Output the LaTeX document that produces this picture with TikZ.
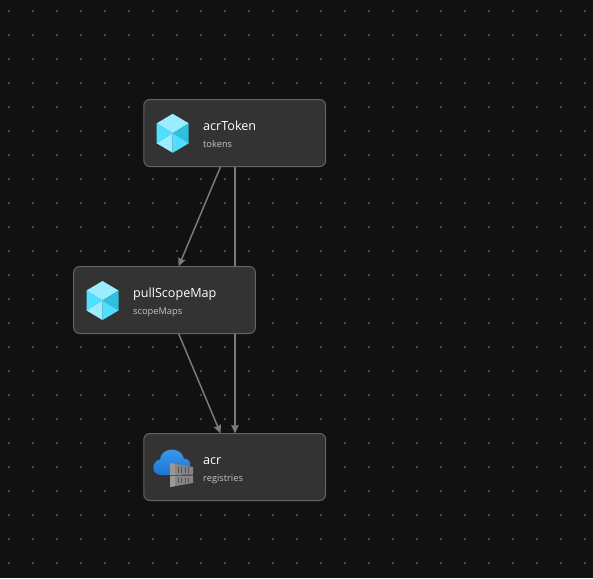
\documentclass[tikz,border=0pt]{standalone}
\usepackage{fontspec}
\setmainfont{Open Sans}
\usetikzlibrary{arrows.meta,backgrounds}
\definecolor{canvasbg}{HTML}{111111}
\definecolor{griddot}{HTML}{4A4A4A}
\definecolor{boxfill}{HTML}{333333}
\definecolor{boxline}{HTML}{646464}
\definecolor{edgeline}{HTML}{7A7A7A}
\definecolor{subtext}{HTML}{C4C4C4}
\definecolor{cubetop}{HTML}{9CECFF}
\definecolor{cubemid}{HTML}{50E0FF}
\definecolor{cubedark}{HTML}{32BEDD}
\definecolor{cloudtop}{HTML}{3F9DEB}
\definecolor{cloudlow}{HTML}{1C74D4}
\definecolor{crate}{HTML}{858585}
\definecolor{crateside}{HTML}{999999}
\definecolor{crategap}{HTML}{555555}
\tikzset{
  resbox/.style={draw=boxline,fill=boxfill,line width=1pt,rounded corners=6pt,
    minimum width=181.8pt,minimum height=67pt,outer sep=0pt,inner sep=0pt},
  restitle/.style={anchor=base west,inner sep=0pt,text=white,font=\fontsize{12.6}{14}\selectfont},
  ressub/.style={anchor=base west,inner sep=0pt,text=subtext,font=\fontsize{9.3}{11}\selectfont},
  edge/.style={draw=edgeline,line width=1.5pt,-{Stealth[length=8.5pt,width=7.5pt,inset=1pt]}},
}
% cube icon, centred on the given point
\newcommand{\cubeicon}[2]{
\fill[cubetop]  (#1,#2-19.5) -- (#1+16,#2-10) -- (#1,#2) -- (#1-16,#2-10) -- cycle;
\fill[cubemid]  (#1-16,#2-10) -- (#1,#2) -- (#1-16,#2+10) -- cycle;
\fill[cubetop]  (#1-16,#2+10) -- (#1,#2) -- (#1,#2+19.5) -- cycle;
\fill[cubedark] (#1+16,#2-10) -- (#1,#2) -- (#1+16,#2+10) -- cycle;
\fill[cubemid]  (#1+16,#2+10) -- (#1,#2) -- (#1,#2+19.5) -- cycle;
}
\begin{document}
\begin{tikzpicture}[x=1pt,y=-1pt]
\useasboundingbox (0,0) rectangle (593,578);

\node[resbox] (acrToken) at (234.7,133) {};
\node[resbox] (pullScopeMap) at (164.5,300) {};
\node[resbox] (acr) at (234.7,467) {};

\begin{scope}[on background layer]
\fill[canvasbg] (0,0) rectangle (593,578);
\foreach \x in {9,33,...,585}
\foreach \y in {11,35,...,575}
{
\fill[griddot] (\x-1,\y-1) rectangle +(2,2);
}
\draw[edge] (acrToken) -- (pullScopeMap);
\draw[edge] ([xshift=0.3pt]acrToken.south) -- ([xshift=0.3pt]acr.north);
\draw[edge] (pullScopeMap) -- (acr);
\end{scope}

\cubeicon{172.7}{133.3}
\cubeicon{102.5}{300.5}

% cloud with two crates
\shade[top color=cloudtop,bottom color=cloudlow]
  (161,475) .. controls (151,475) and (151,461) .. (160,459.5)
  .. controls (161,447) and (181,446) .. (184,458.5)
  .. controls (189,459) and (191,462) .. (190,467)
  -- (172,475) -- cycle;
\fill[crate] (170,463) -- (193,467) -- (193,474.5) -- (170,475) -- cycle;
\fill[crate] (170,476) -- (193,476) -- (193,483) -- (170,487) -- cycle;
\fill[crateside] (170,463) -- (175,464) -- (175,486) -- (170,487) -- cycle;
\draw[crategap,line width=0.8pt] (170,475.5) -- (193,475.5);
\foreach \x in {178,181.5,185,188.5}
{
\draw[crategap,line width=0.7pt] (\x,466.5) -- (\x,473);
\draw[crategap,line width=0.7pt] (\x,477.5) -- (\x,483);
}

\node[restitle] (acrTokenName) at (203,130) {acrToken};
\node[ressub] (acrTokenType) at (203,147) {tokens};
\node[restitle] (pullScopeMapName) at (133,297) {pullScopeMap};
\node[ressub] (pullScopeMapType) at (133,314) {scopeMaps};
\node[restitle] (acrName) at (203,464) {acr};
\node[ressub] (acrType) at (203,481) {registries};
\end{tikzpicture}
\end{document}
